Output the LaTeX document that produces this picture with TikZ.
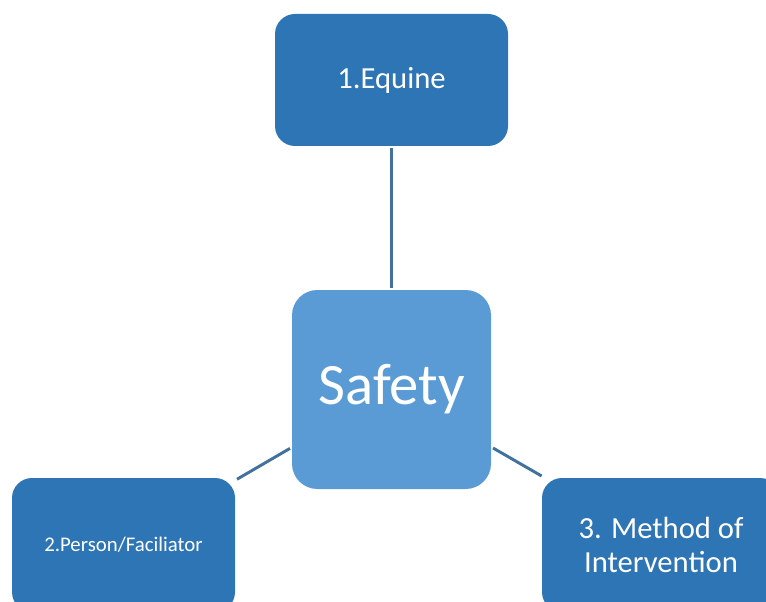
\documentclass[tikz,border=0pt]{standalone}
\usepackage{fontspec}
\setmainfont{Carlito}
\usetikzlibrary{positioning}
\definecolor{darkbox}{HTML}{2E75B6}
\definecolor{lightbox}{HTML}{5B9BD5}
\definecolor{linkline}{HTML}{41719C}
\tikzset{%
	part/.style   = {fill=darkbox, rounded corners=15pt, text=white,
		font=\fontsize{23}{26}\selectfont, align=center, inner sep=0pt, outer sep=1.5pt},
	hub/.style    = {fill=lightbox, rounded corners=19pt, text=white,
		font=\fontsize{44}{50}\selectfont, inner sep=0pt, outer sep=1.5pt,
		minimum width=149.25pt, minimum height=149.25pt},
	link/.style   = {draw=linkline, line width=2.2pt} % connector
}
\begin{document}
\begin{tikzpicture}[x=0.75pt,y=-0.75pt]
	\useasboundingbox (0,0) rectangle (766,602);
	\clip (0,0) rectangle (766,602);
	
	\node[hub]  (safety) at (391.5,389.5) {Safety};
	\node[part, minimum width=174.75pt, minimum height=99pt]    (equine) at (391.5,80) {1.Equine};
	\node[part, minimum width=167.25pt, minimum height=100.5pt,
		font=\fontsize{15.6}{18}\selectfont]                    (person) at (123.5,545) {2.Person/Faciliator};
	\node[part, minimum width=178.5pt, minimum height=100.5pt]  (method) at (661,545) {3. Method of\\Intervention};
	
	\draw[link] (equine) -- (safety);
	\draw[link] (person) -- (safety);
	\draw[link] (safety) -- (method);
\end{tikzpicture}
\end{document}
